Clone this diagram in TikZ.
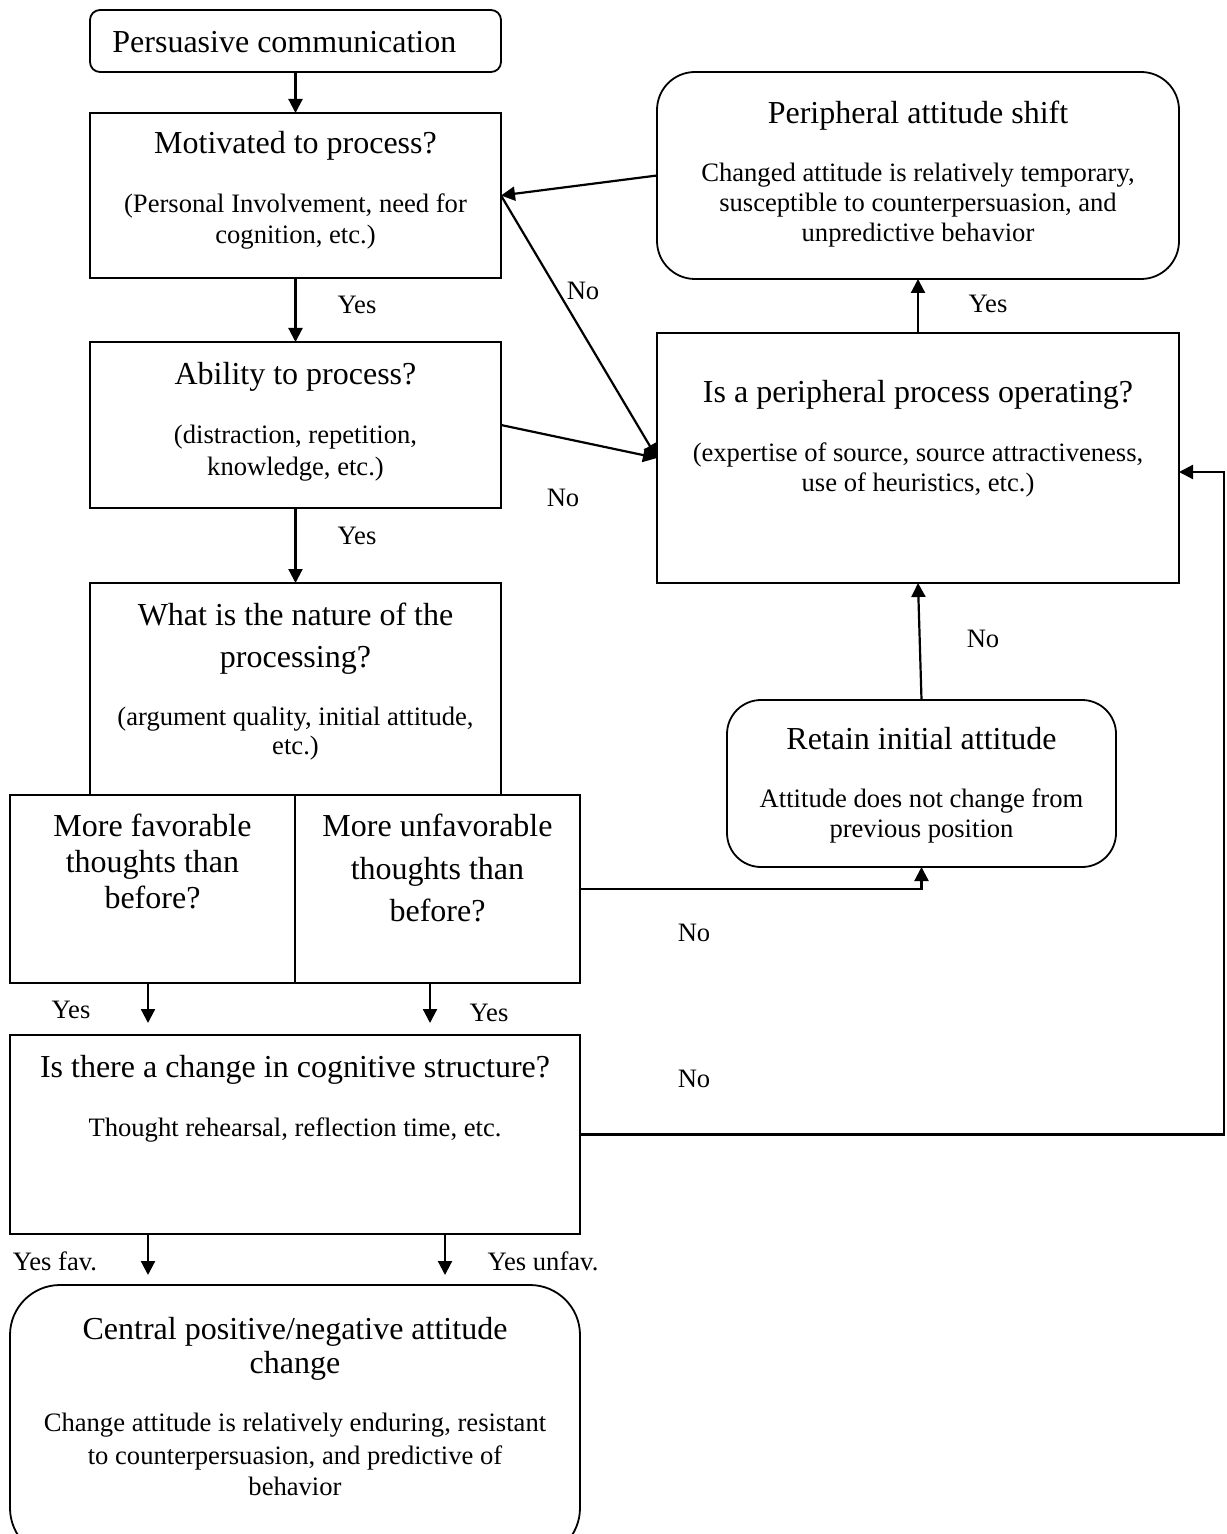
\documentclass[tikz,border=0pt]{standalone}
\usepackage{fontspec}
\setmainfont{Liberation Serif}
\usetikzlibrary{arrows.meta}
\begin{document}
\begin{tikzpicture}[x=0.5pt,y=-0.5pt,
  box/.style={draw, line width=0.9pt, inner sep=0pt, outer sep=0pt},
  rbox/.style={box, rounded corners=#1},
  ttl/.style={font=\fontsize{16}{19}\selectfont, anchor=base, inner sep=0pt},
  txt/.style={font=\fontsize{13.3}{15.3}\selectfont, anchor=base, inner sep=0pt},
  arr/.style={line width=1.1pt, -{Triangle[length=7pt,width=7pt]}},
  ]
\useasboundingbox (0,0) rectangle (1226,1534);

% ---------- boxes ----------
\node[rbox=5pt, minimum width=205.5pt, minimum height=31pt] (pc) at (295.5,41) {};
\node[box, minimum width=205.5pt, minimum height=82.5pt] (mot) at (295.5,195.5) {};
\node[box, minimum width=205.5pt, minimum height=83pt] (abl) at (295.5,425) {};
\node[box, minimum width=205.5pt, minimum height=106pt] (nat) at (295.5,689) {};
\node[box, minimum width=142.5pt, minimum height=94pt] (fav) at (152.5,889) {};
\node[box, minimum width=142.5pt, minimum height=94pt] (unf) at (437.5,889) {};
\node[box, minimum width=285pt, minimum height=99.5pt] (chg) at (295,1134.5) {};
\node[rbox=25pt, minimum width=285pt, minimum height=136.5pt] (cen) at (295,1421.5) {};
\node[rbox=19pt, minimum width=261pt, minimum height=103.5pt] (shf) at (918,175.5) {};
\node[box, minimum width=261pt, minimum height=125pt] (per) at (918,458) {};
\node[rbox=17pt, minimum width=194.5pt, minimum height=83.5pt] (ret) at (921.5,783.5) {};

% ---------- texts ----------
\node[ttl, anchor=base west] (pct) at (112,53) {Persuasive communication};

\node[ttl] (mott) at (295.5,154) {Motivated to process?};
\node[txt] (mots1) at (295.5,213) {(Personal Involvement, need for};
\node[txt] (mots2) at (295.5,244) {cognition, etc.)};

\node[ttl] (ablt) at (295.5,385) {Ability to process?};
\node[txt] (abls1) at (295.5,444) {(distraction, repetition,};
\node[txt] (abls2) at (295.5,475) {knowledge, etc.)};

\node[ttl] (natt1) at (295.5,625) {What is the nature of the};
\node[ttl] (natt2) at (295.5,667) {processing?};
\node[txt] (nats1) at (295.5,725) {(argument quality, initial attitude,};
\node[txt] (nats2) at (295.5,754) {etc.)};

\node[ttl] (fav1) at (152.5,836) {More favorable};
\node[ttl] (fav2) at (152.5,872) {thoughts than};
\node[ttl] (fav3) at (152.5,908) {before?};

\node[ttl] (unf1) at (437.5,836) {More unfavorable};
\node[ttl] (unf2) at (437.5,879) {thoughts than};
\node[ttl] (unf3) at (437.5,921) {before?};

\node[ttl] (chgt) at (295,1077) {Is there a change in cognitive structure?};
\node[txt] (chgs) at (295,1136) {Thought rehearsal, reflection time, etc.};

\node[ttl] (cent1) at (295,1339) {Central positive/negative attitude};
\node[ttl] (cent2) at (295,1373) {change};
\node[txt] (cens1) at (295,1431) {Change attitude is relatively enduring, resistant};
\node[txt] (cens2) at (295,1464) {to counterpersuasion, and predictive of};
\node[txt] (cens3) at (295,1495) {behavior};

\node[ttl] (shft) at (918,124) {Peripheral attitude shift};
\node[txt] (shfs1) at (918,182) {Changed attitude is relatively temporary,};
\node[txt] (shfs2) at (918,212) {susceptible to counterpersuasion, and};
\node[txt] (shfs3) at (918,242) {unpredictive behavior};

\node[ttl] (pert) at (918,403) {Is a peripheral process operating?};
\node[txt] (pers1) at (918,461) {(expertise of source, source attractiveness,};
\node[txt] (pers2) at (918,491) {use of heuristics, etc.)};

\node[ttl] (rett) at (921.5,749) {Retain initial attitude};
\node[txt] (rets1) at (921.5,807) {Attitude does not change from};
\node[txt] (rets2) at (921.5,837) {previous position};

% ---------- connector labels ----------
\node[txt] (y1) at (357,314) {Yes};
\node[txt] (y2) at (357,544) {Yes};
\node[txt] (n1) at (583,300) {No};
\node[txt] (n2) at (563,506) {No};
\node[txt] (y3) at (988,313) {Yes};
\node[txt] (n3) at (983,647) {No};
\node[txt] (n4) at (694,941) {No};
\node[txt] (n5) at (694,1087) {No};
\node[txt] (y4) at (71,1018) {Yes};
\node[txt] (y5) at (489,1021) {Yes};
\node[txt] (y6) at (55,1270) {Yes fav.};
\node[txt] (y7) at (543,1270) {Yes unfav.};

% ---------- connectors ----------
\draw[arr] (pc) -- (mot);
\draw[arr] (mot) -- (abl);
\draw[arr] (abl) -- (nat);
\draw[arr] (shf.west) -- (mot.east);
\draw[arr] (mot.east) -- (per.west);
\draw[arr] (abl.east) -- (per.west);
\draw[arr] (per) -- (shf);
\draw[arr] (ret.north) -- (per.south);
\draw[arr] (unf.east) -| (ret.south);

\coordinate (fa) at ([xshift=-2.25pt]fav.south);
\coordinate (ua) at ([xshift=-3.75pt]unf.south);
\draw[arr, shorten >=6pt] (fa) -- (fa |- chg.north);
\draw[arr, shorten >=6pt] (ua) -- (ua |- chg.north);

\coordinate (ca) at ([xshift=-73.5pt]chg.south);
\coordinate (cb) at ([xshift=75pt]chg.south);
\draw[arr, shorten >=5pt] (ca) -- (ca |- cen.north);
\draw[arr, shorten >=5pt] (cb) -- (cb |- cen.north);

\coordinate (loop) at (1224,472);
\draw[arr] (chg.east) -| (loop) -- (per.east |- loop);
\end{tikzpicture}
\end{document}
